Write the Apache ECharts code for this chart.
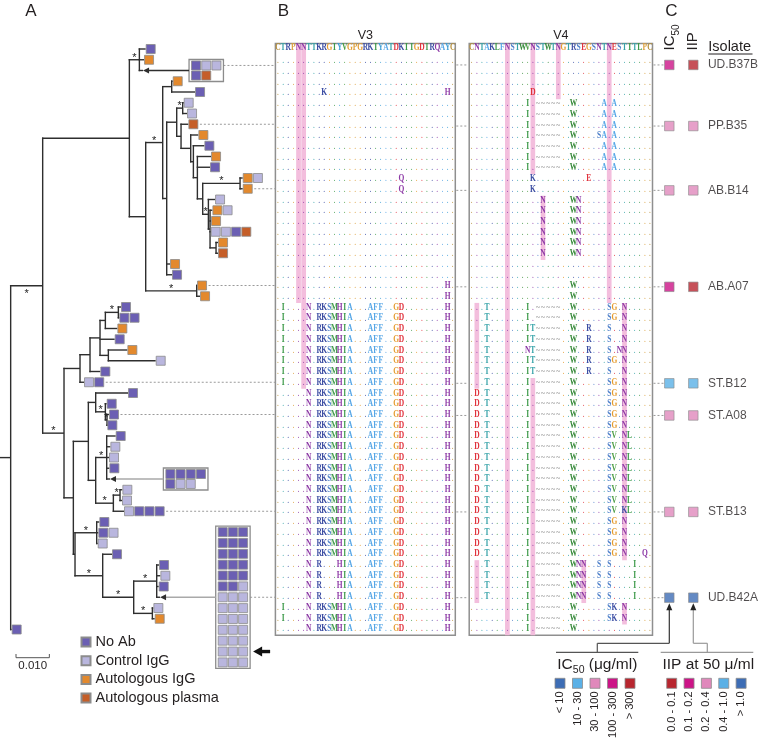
<!DOCTYPE html>
<html><head><meta charset="utf-8"><title>Env tree and alignment</title>
<script src="https://cdn.jsdelivr.net/npm/echarts@6.0.0/dist/echarts.min.js"></script>
<style>html,body{margin:0;padding:0;background:#fff;}#chart{width:758px;height:743px;}</style>
</head><body><div id="chart"></div>
<script>
// ================= DATA =================
const groupNames = ['No Ab', 'Control IgG', 'Autologous IgG', 'Autologous plasma'];
const groupCodes = ['P', 'L', 'O', 'D'];
const groupColors = ['#6b5fb3', '#b9b6de', '#e3892d', '#c55e28'];

// internal nodes: [name, parent, cumulative distance (subst./site)]
const treeNodes = [
  ['root', null, 0], ['A', 'root', 0.0096], ['B', 'A', 0.0356], ['C', 'A', 0.0160],
  ['B1', 'B', 0.0386], ['B2', 'B', 0.0405], ['B21', 'B2', 0.0456], ['B22', 'B2', 0.0558],
  ['B211', 'B21', 0.0483], ['B212', 'B21', 0.0468], ['B2121', 'B212', 0.0498],
  ['C1u', 'B2121', 0.0516], ['Nb', 'B2121', 0.0511], ['Nc', 'Nb', 0.0540], ['Nd', 'Nc', 0.0548],
  ['Ne', 'Nd', 0.0560], ['Nf', 'Ne', 0.0576], ['Ng', 'Nf', 0.0688], ['Nh', 'Nf', 0.0593],
  ['Nh2', 'Nh', 0.0598], ['Nh3', 'Nh2', 0.0616],
  ['C1', 'C', 0.0208], ['C11', 'C1', 0.0238], ['C111', 'C11', 0.0268], ['C1111', 'C111', 0.0284],
  ['C11111', 'C1111', 0.0323], ['C1112', 'C111', 0.0293],
  ['C2', 'C', 0.0188], ['C21', 'C2', 0.0233], ['C211', 'C21', 0.0255], ['C2111', 'C211', 0.0284],
  ['C21111', 'C2111', 0.0289], ['C212', 'C21', 0.0255], ['C2121', 'C212', 0.0288],
  ['C2122', 'C212', 0.0308], ['C2122a', 'C2122', 0.0328],
  ['C2b', 'C2', 0.0193], ['C22', 'C2b', 0.0258], ['C23', 'C2b', 0.0276], ['C231', 'C23', 0.0369],
  ['C2311', 'C231', 0.0438], ['C2312', 'C231', 0.0425]
];
// leaves in display order: [parent, tip distance, sample squares]
const treeLeaves = [
  ['B1', 0.0405, 'P'], ['B1', 0.0400, 'O'], ['B1', 0.0397, 'box'],
  ['B211', 0.0486, 'O'], ['B211', 0.0553, 'P'],
  ['C1u', 0.0519, 'L'], ['C1u', 0.0529, 'L'], ['Nb', 0.0533, 'D'], ['Nc', 0.0563, 'O'],
  ['Nd', 0.0581, 'P'], ['Ne', 0.0601, 'O'], ['Ne', 0.0598, 'P'],
  ['Ng', 0.0696, 'OL'], ['Ng', 0.0696, 'O'], ['Nh', 0.0613, 'L'],
  ['Nh2', 0.0605, 'OL'], ['Nh2', 0.0601, 'O'], ['Nh2', 0.0600, 'LLPD'],
  ['Nh3', 0.0622, 'O'], ['Nh3', 0.0622, 'D'],
  ['B212', 0.0478, 'O'], ['B212', 0.0484, 'P'], ['B22', 0.0559, 'O'], ['B22', 0.0568, 'O'],
  ['C11111', 0.0331, 'P'], ['C11111', 0.0326, 'PP'], ['C1111', 0.0320, 'O'], ['C111', 0.0312, 'P'],
  ['C1112', 0.0350, 'O'], ['C1112', 0.0435, 'L'], ['C11', 0.0269, 'P'], ['C1', 0.0220, 'LP'],
  ['C211', 0.0352, 'P'], ['C2111', 0.0288, 'P'], ['C21111', 0.0295, 'P'], ['C21111', 0.0290, 'P'],
  ['C2121', 0.0315, 'P'], ['C2121', 0.0299, 'L'], ['C2121', 0.0295, 'L'], ['C2121', 0.0296, 'P'],
  ['C2121', 0.0298, 'box'], ['C2122a', 0.0335, 'L'], ['C2122a', 0.0334, 'L'], ['C2122', 0.0340, 'LPPP'],
  ['C22', 0.0266, 'P'], ['C22', 0.0263, 'PL'], ['C22', 0.0261, 'L'], ['C23', 0.0304, 'P'],
  ['C2311', 0.0445, 'P'], ['C2311', 0.0449, 'L'], ['C2311', 0.0444, 'P'], ['C2311', 0.0448, 'box'],
  ['C2312', 0.0428, 'L'], ['C2312', 0.0432, 'O'],
  ['root', 0.0003, 'P']
];
const supportedNodes = ['B1', 'B21', 'B22', 'A', 'C', 'C1u', 'Ng', 'Nh', 'C11111', 'C2111', 'C21111',
  'C2121', 'C2122a', 'C2122', 'C22', 'C23', 'C231', 'C2311', 'C2312'];
const supportedBelow = ['A'];
// collapsed identical-sequence groups
const collapsedLeaf = [2, 40, 51];
const collapsedLeft = [0.0535, 0.0458, 0.0615];
const collapsedRows = [
  ['PLL', 'PD'],
  ['PPPP', 'PLL'],
  ['PPP', 'PPP', 'PPP', 'PPP', 'PPP', 'PPL', 'LLL', 'LLL', 'LLL', 'LLL', 'LLL', 'LLL', 'LLL']
];
const collapsedDark = [true, false, false];
const collapsedPointer = [-1, -1, 11];

// alignments: rows given as substitutions against the reference (dots = identical)
const v3Header = 'CTRPNNTTKRGIYVGPGRKIYATDKIIGDIRQAYC';
const v3Blocks = [
  [3, []],
  [1, [[9, 'K'], [33, 'H']]],
  [7, []],
  [2, [[24, 'Q']]],
  [8, []],
  [2, [[33, 'H']]],
  [8, [[1, 'I'], [6, 'N'], [8, 'RKSMHIA'], [18, 'AFF'], [23, 'GD'], [33, 'H']]],
  [16, [[6, 'N'], [8, 'RKSMHIA'], [18, 'AFF'], [23, 'GD'], [33, 'H']]],
  [4, [[6, 'N'], [8, 'R'], [12, 'HIA'], [18, 'AFF'], [23, 'GD'], [33, 'H']]],
  [2, [[1, 'I'], [6, 'N'], [8, 'RKSMHIA'], [18, 'AFF'], [23, 'GD'], [33, 'H']]],
  [1, [[6, 'N'], [8, 'RKSMHIA'], [18, 'AFF'], [23, 'GD'], [33, 'H']]]
];
const v3Glyco = [[4, -2, 22], [5, -2, 30]];

const v4Header = 'CNTAKLFNSTWVNSTWTNGTRSEGSNTNESTITLPC';
const v4Blocks = [
  [3, []],
  [1, [[12, 'D']]],
  [3, [[11, 'I'], [13, '~~~~~'], [20, 'W'], [26, 'A'], [28, 'A']]],
  [1, [[11, 'I'], [13, '~~~~~'], [20, 'W'], [25, 'SA'], [28, 'A']]],
  [3, [[11, 'I'], [13, '~~~~~'], [20, 'W'], [26, 'A'], [28, 'A']]],
  [1, [[12, 'K'], [23, 'E']]],
  [1, [[12, 'K']]],
  [6, [[14, 'N'], [20, 'WN']]],
  [2, []],
  [2, [[20, 'W']]],
  [2, [[3, 'T'], [11, 'I'], [13, '~~~~~'], [20, 'W'], [27, 'SG'], [30, 'N']]],
  [2, [[3, 'T'], [11, 'IT'], [13, '~~~~~'], [20, 'W'], [23, 'R'], [27, 'S'], [30, 'N']]],
  [1, [[3, 'T'], [11, 'NT'], [13, '~~~~~'], [20, 'W'], [23, 'R'], [27, 'S'], [29, 'NN']]],
  [1, [[3, 'T'], [11, 'IT'], [13, '~~~~~'], [20, 'W'], [23, 'R'], [27, 'SG'], [30, 'N']]],
  [1, [[3, 'T'], [11, 'IT'], [13, '~~~~~'], [20, 'W'], [23, 'R'], [27, 'S'], [30, 'N']]],
  [1, [[3, 'T'], [11, 'I'], [13, '~~~~~'], [20, 'W'], [27, 'SG'], [30, 'N']]],
  [4, [[1, 'D'], [3, 'T'], [11, 'I'], [13, '~~~~~'], [20, 'W'], [27, 'SG'], [30, 'N']]],
  [7, [[1, 'D'], [3, 'T'], [11, 'I'], [13, '~~~~~'], [20, 'W'], [27, 'SV'], [30, 'NL']]],
  [1, [[1, 'D'], [3, 'T'], [11, 'I'], [13, '~~~~~'], [20, 'W'], [27, 'SV'], [30, 'KL']]],
  [3, [[1, 'D'], [3, 'T'], [11, 'I'], [13, '~~~~~'], [20, 'W'], [27, 'SG'], [30, 'N']]],
  [1, [[1, 'D'], [3, 'T'], [11, 'I'], [13, '~~~~~'], [20, 'W'], [27, 'SG'], [30, 'N'], [34, 'Q']]],
  [4, [[3, 'T'], [11, 'I'], [13, '~~~~~'], [20, 'WNN'], [25, 'S'], [27, 'S'], [32, 'I']]],
  [2, [[11, 'I'], [13, '~~~~~'], [20, 'W'], [27, 'SK'], [30, 'N']]],
  [1, [[11, 'I'], [13, '~~~~~'], [20, 'W']]]
];
const v4Glyco = [[1, 23, 30], [1, 47, 50], [7, -2, 53], [12, -2, 10], [12, 30, 53],
  [14, 13, 18], [17, -2, 3], [22, 47, 50], [27, -2, 22], [30, 23, 46], [30, 51, 52]];

const aaColors = { C: '#b8913c', T: '#36a3a8', R: '#3d4ea3', P: '#dba03e', N: '#8d3aa6', K: '#3d4ea3',
  G: '#e59c2f', I: '#3e9a4a', Y: '#3f9fd6', V: '#4c9e45', A: '#56a6e6', D: '#e0323c', Q: '#8d3aa6',
  S: '#4d7fc9', E: '#e0323c', W: '#3a8c3d', F: '#56a6e6', M: '#3e9a4a', H: '#8d3aa6', L: '#3e9a4a' };

// isolates (panel C)
const isolateNames = ['UD.B37B', 'PP.B35', 'AB.B14', 'AB.A07', 'ST.B12', 'ST.A08', 'ST.B13', 'UD.B42A'];
const isolateAlnRow = [0.3, 6, 12, 21, 30, 33, 42, 50];
const isolateTreeRow = [1.53, 7, 13, 22, 31, 34, 43, 51];
const isolateLeaf = [2, 7, 13, 22, 31, 34, 43, 51];
const ic50Class = [3, 2, 2, 3, 1, 2, 2, 0];
const iipClass = [0, 2, 2, 0, 3, 2, 2, 4];
const ic50Labels = ['< 10', '10 - 30', '30 - 100', '100 - 300', '> 300'];
const ic50Colors = ['#3d6db5', '#5ab0e6', '#e088bb', '#cc1487', '#b8262f'];
const iipLabels = ['0.0 - 0.1', '0.1 - 0.2', '0.2 - 0.4', '0.4 - 1.0', '> 1.0'];
const iipColors = ['#b8262f', '#cc1487', '#e088bb', '#5ab0e6', '#3d6db5'];

// ================= LAYOUT / STYLE =================
const FONT = '"Liberation Sans", Arial, sans-serif';
const ALN_FONT = '9.6px "Liberation Serif", serif';
const layout = {
  tree: { left: 0, top: 49, width: 275.4, height: 580.5 },
  v3: { left: 275.4, top: 43.5, width: 179.9, height: 591.7 },
  v4: { left: 469.2, top: 43.5, width: 183.3, height: 591.7 },
  c: { left: 657.3, top: 43.5, width: 48, height: 591.7 }
};
const TREE_XMIN = -0.0032, TREE_XMAX = 0.0794;
const ALN_YMIN = -1.7, ALN_YMAX = 53.5, HEADER_ROW = -1.25;
const SQ_STEP = 10.2;

// ================= BUILD =================
function expand(blocks, len) {
  const out = [];
  blocks.forEach(([n, subs]) => {
    const arr = new Array(len).fill('.');
    subs.forEach(([c, s]) => { for (let k = 0; k < s.length; k++) arr[c + k] = s[k]; });
    for (let i = 0; i < n; i++) out.push(arr.join(''));
  });
  return out;
}
const v3Rows = expand(v3Blocks, v3Header.length);
const v4Rows = expand(v4Blocks, v4Header.length);

const nodes = {};
treeNodes.forEach(([name, parent, depth]) => { nodes[name] = { name, parent, depth, children: [] }; });
treeLeaves.forEach(([parent, depth, sq], i) => { nodes['leaf' + i] = { name: 'leaf' + i, parent, depth, children: [], leaf: true, y: i, sq }; });
Object.keys(nodes).forEach(k => { const n = nodes[k]; if (n.parent) nodes[n.parent].children.push(n); });
(function lay(n) {
  if (n.leaf) return n.y;
  const ys = n.children.map(lay);
  n.minY = Math.min(...ys); n.maxY = Math.max(...ys); n.y = (n.minY + n.maxY) / 2;
  return n.y;
})(nodes.root);

const edgeData = Object.keys(nodes).map(k => {
  const n = nodes[k];
  const pd = n.parent ? nodes[n.parent].depth : TREE_XMIN;
  return [pd, n.depth, n.y, n.leaf ? -1 : n.minY, n.leaf ? -1 : n.maxY];
});
const starData = supportedNodes.map(name => {
  const n = nodes[name];
  return [(nodes[n.parent].depth + n.depth) / 2, n.y, supportedBelow.includes(name) ? 1 : 0];
});

function boxRowOffset(b, j) {
  const rows = collapsedRows[b];
  const step = rows.length > 2 ? 1.01 : 0.93;
  return (j - (rows.length - 1) / 2) * step;
}
function boxCols(b) { return Math.max(...collapsedRows[b].map(r => r.length)); }

const squareSeries = groupCodes.map((code, g) => {
  const data = [];
  treeLeaves.forEach(([p, d, sq], i) => {
    if (sq === 'box') return;
    sq.split('').forEach((c, k) => { if (c === code) data.push({ value: [d, i], symbolOffset: [5 + SQ_STEP * k, 0] }); });
  });
  collapsedLeaf.forEach((leaf, b) => {
    collapsedRows[b].forEach((r, j) => {
      r.split('').forEach((c, k) => {
        if (c === code) data.push({ value: [collapsedLeft[b], leaf + boxRowOffset(b, j)], symbolOffset: [7 + SQ_STEP * k, 0] });
      });
    });
  });
  return {
    type: 'scatter', name: groupNames[g], xAxisIndex: 0, yAxisIndex: 0, symbol: 'rect', symbolSize: 9,
    clip: false, z: 6, silent: true, animation: false,
    itemStyle: { color: groupColors[g], borderColor: '#8c8c8c', borderWidth: 0.8, opacity: 1 },
    data
  };
});

function alnItems(header, rows) {
  const data = [], chars = [], cols = [];
  header.split('').forEach((ch, c) => { data.push([c, HEADER_ROW]); chars.push(ch); cols.push(aaColors[ch]); });
  rows.forEach((row, r) => {
    row.split('').forEach((ch, c) => {
      data.push([c, r]); chars.push(ch);
      cols.push(ch === '.' ? aaColors[header[c]] : (ch === '~' ? '#9c9c9c' : aaColors[ch]));
    });
  });
  return { data, chars, cols };
}
const v3Items = alnItems(v3Header, v3Rows);
const v4Items = alnItems(v4Header, v4Rows);

function textSeries(gridIdx, items) {
  return {
    type: 'custom', xAxisIndex: gridIdx, yAxisIndex: gridIdx, z: 4, silent: true, clip: false, progressive: 0,
    encode: { x: 0, y: 1 },
    renderItem: (params, api) => {
      const i = params.dataIndex;
      const p = api.coord([api.value(0), api.value(1)]);
      const isDot = items.chars[i] === '.';
      return { type: 'text', x: p[0], y: p[1] - 1, scaleX: 0.78,
        style: { text: items.chars[i], fill: items.cols[i], font: (isDot ? '' : '600 ') + ALN_FONT, align: 'center', verticalAlign: 'middle', textAlign: 'center', textVerticalAlign: 'middle' } };
    },
    data: items.data
  };
}
function glycoSeries(gridIdx, bands) {
  return {
    type: 'custom', xAxisIndex: gridIdx, yAxisIndex: gridIdx, z: 1, silent: true, clip: false,
    encode: { x: 0, y: [1, 2] },
    renderItem: (params, api) => {
      const c = api.value(0);
      const r0 = Math.max(api.value(1) - 0.5, ALN_YMIN + 0.1), r1 = Math.min(api.value(2) + 0.5, ALN_YMAX);
      const a = api.coord([c - 0.5, r0]), b = api.coord([c + 0.5, r1]);
      return { type: 'rect', shape: { x: a[0] + 0.2, y: a[1], width: b[0] - a[0] - 0.4, height: b[1] - a[1] }, style: { fill: '#f3bedd' } };
    },
    data: bands
  };
}

const leafEndPx = (api, leaf) => {
  const b = collapsedLeaf.indexOf(leaf);
  if (b >= 0) return api.coord([collapsedLeft[b], leaf])[0] + 14 + SQ_STEP * (boxCols(b) - 1);
  const n = treeLeaves[leaf][2].length;
  return api.coord([treeLeaves[leaf][1], leaf])[0] + 0.5 + SQ_STEP * (n - 1) + 9 + 2;
};

const series = [
  { // tree branches
    type: 'custom', xAxisIndex: 0, yAxisIndex: 0, z: 2, silent: true, clip: false, encode: { x: [0, 1], y: 2 },
    renderItem: (params, api) => {
      const pd = api.value(0), d = api.value(1), y = api.value(2), a = api.value(3), b = api.value(4);
      const p0 = api.coord([pd, y]), p1 = api.coord([d, y]);
      const st = { stroke: '#2e2e2e', lineWidth: 1.4 };
      const ch = [{ type: 'line', shape: { x1: p0[0] - 0.7, y1: p0[1], x2: p1[0], y2: p1[1] }, style: st }];
      if (a >= 0) {
        const q0 = api.coord([d, a]), q1 = api.coord([d, b]);
        ch.push({ type: 'line', shape: { x1: q0[0], y1: q0[1] - 0.7, x2: q1[0], y2: q1[1] + 0.7 }, style: st });
      }
      return { type: 'group', children: ch };
    },
    data: edgeData
  },
  { // collapsed groups: frames and arrows
    type: 'custom', xAxisIndex: 0, yAxisIndex: 0, z: 3, silent: true, clip: false, encode: { x: 0, y: 1 },
    renderItem: (params, api) => {
      const b = params.dataIndex, leaf = collapsedLeaf[b], rows = collapsedRows[b];
      const left = api.coord([collapsedLeft[b], leaf]);
      const tip = api.coord([treeLeaves[leaf][1], leaf]);
      const yTop = api.coord([0, leaf + boxRowOffset(b, 0)])[1] - 6;
      const yBot = api.coord([0, leaf + boxRowOffset(b, rows.length - 1)])[1] + 6;
      const right = left[0] + 14 + SQ_STEP * (boxCols(b) - 1);
      const col = collapsedDark[b] ? '#2e2e2e' : '#a9a9a9';
      const ch = [
        { type: 'rect', shape: { x: left[0], y: yTop, width: right - left[0], height: yBot - yTop }, style: { fill: '#fff', stroke: '#8c8c8c', lineWidth: 1.3 } },
        { type: 'line', shape: { x1: left[0], y1: left[1], x2: tip[0] + 3, y2: tip[1] }, style: { stroke: col, lineWidth: 1.4 } },
        { type: 'polygon', shape: { points: [[tip[0], tip[1]], [tip[0] + 6, tip[1] - 3], [tip[0] + 6, tip[1] + 3]] }, style: { fill: '#2e2e2e' } }
      ];
      if (collapsedPointer[b] >= 0) {
        const py = api.coord([0, leaf + boxRowOffset(b, collapsedPointer[b])])[1];
        const x0 = right + 3;
        ch.push({ type: 'polygon', shape: { points: [[x0, py], [x0 + 9, py - 5], [x0 + 9, py + 5]] }, style: { fill: '#111' } });
        ch.push({ type: 'rect', shape: { x: x0 + 8, y: py - 1.7, width: 9, height: 3.4 }, style: { fill: '#111' } });
      }
      return { type: 'group', children: ch };
    },
    data: collapsedLeaf.map((leaf, b) => [collapsedLeft[b], leaf])
  },
  { // bootstrap support stars
    type: 'custom', xAxisIndex: 0, yAxisIndex: 0, z: 4, silent: true, clip: false, encode: { x: 0, y: 1 },
    renderItem: (params, api) => {
      const p = api.coord([api.value(0), api.value(1)]);
      const below = api.value(2) === 1;
      return { type: 'text', x: p[0], y: p[1] + (below ? 8 : -2),
        style: { text: '*', font: '11px ' + FONT, fill: '#222', align: 'center', verticalAlign: 'middle', textAlign: 'center', textVerticalAlign: 'middle' } };
    },
    data: starData
  },
  { // dotted connectors tree -> alignment
    type: 'custom', xAxisIndex: 0, yAxisIndex: 0, z: 1, silent: true, clip: false, encode: { x: 0, y: 1 },
    renderItem: (params, api) => {
      const i = params.dataIndex;
      const y = api.coord([0, isolateTreeRow[i]])[1];
      const x0 = leafEndPx(api, isolateLeaf[i]);
      const x1 = api.coord([TREE_XMAX, 0])[0];
      return { type: 'line', shape: { x1: x0, y1: y, x2: x1, y2: y }, style: { stroke: '#9a9a9a', lineWidth: 1, lineDash: [2, 2] } };
    },
    data: isolateTreeRow.map((r, i) => [0, r])
  },
  ...squareSeries,
  glycoSeries(1, v3Glyco),
  textSeries(1, v3Items),
  glycoSeries(2, v4Glyco),
  textSeries(2, v4Items),
  { // panel C connectors
    type: 'custom', xAxisIndex: 3, yAxisIndex: 3, z: 1, silent: true, clip: false, encode: { x: 0, y: 1 },
    renderItem: (params, api) => {
      const p = api.coord([0.5, api.value(1)]);
      const st = { stroke: '#9a9a9a', lineWidth: 1, lineDash: [2, 2] };
      const v3r = layout.v3.left + layout.v3.width, v4l = layout.v4.left, v4r = layout.v4.left + layout.v4.width;
      return { type: 'group', children: [
        { type: 'line', shape: { x1: v3r + 1, y1: p[1], x2: v4l - 1, y2: p[1] }, style: st },
        { type: 'line', shape: { x1: v4r + 1, y1: p[1], x2: p[0] - 5, y2: p[1] }, style: st }
      ] };
    },
    data: isolateAlnRow.map(r => [0.5, r])
  },
  {
    type: 'scatter', name: 'IC50', xAxisIndex: 3, yAxisIndex: 3, symbol: 'rect', symbolSize: 9.5, clip: false, z: 5, silent: true,
    itemStyle: { borderColor: '#8c8c8c', borderWidth: 0.8 },
    data: isolateAlnRow.map((r, i) => ({ value: [0.5, r], itemStyle: { color: ic50Colors[ic50Class[i]] } }))
  },
  {
    type: 'scatter', name: 'IIP', xAxisIndex: 3, yAxisIndex: 3, symbol: 'rect', symbolSize: 9.5, clip: false, z: 5, silent: true,
    itemStyle: { borderColor: '#8c8c8c', borderWidth: 0.8 },
    label: { show: true, position: 'right', distance: 9.5, formatter: '{b}', fontSize: 12, color: '#231f20', fontFamily: FONT },
    data: isolateAlnRow.map((r, i) => ({ name: isolateNames[i], value: [1.5, r], itemStyle: { color: iipColors[iipClass[i]] } }))
  }
];

const hiddenAxis = (min, max, gridIndex, inverse) => ({
  type: 'value', min, max, gridIndex, inverse: !!inverse, show: false,
  axisLine: { show: false }, axisTick: { show: false }, axisLabel: { show: false }, splitLine: { show: false }
});
const gridOf = (g, border) => Object.assign({ containLabel: false, outerBoundsMode: 'none', show: !!border,
  borderColor: '#8f8f8f', borderWidth: 1.5, backgroundColor: 'transparent' }, g);

const chart = echarts.init(document.getElementById('chart'), null, { renderer: 'canvas', width: 758, height: 743 });
chart.setOption({
  animation: false,
  backgroundColor: '#ffffff',
  textStyle: { fontFamily: FONT },
  grid: [gridOf(layout.tree, false), gridOf(layout.v3, true), gridOf(layout.v4, true), gridOf(layout.c, false)],
  xAxis: [hiddenAxis(TREE_XMIN, TREE_XMAX, 0), hiddenAxis(-0.5, v3Header.length - 0.5, 1), hiddenAxis(-0.5, v4Header.length - 0.5, 2), hiddenAxis(0, 2, 3)],
  yAxis: [hiddenAxis(0, 54, 0, true), hiddenAxis(ALN_YMIN, ALN_YMAX, 1, true), hiddenAxis(ALN_YMIN, ALN_YMAX, 2, true), hiddenAxis(ALN_YMIN, ALN_YMAX, 3, true)],
  legend: {
    data: groupNames, orient: 'vertical', left: 80.5, top: 634.5, itemWidth: 9, itemHeight: 9, itemGap: 3.7,
    icon: 'rect', selectedMode: false, padding: 0,
    textStyle: { fontSize: 14.5, lineHeight: 14.5, color: '#231f20', fontFamily: FONT }
  },
  series
});

// ---------- annotations ----------
const T = (x, y, text, size, o) => {
  o = o || {};
  return { type: 'text', x, y, rotation: o.rot || 0, silent: true,
    style: Object.assign({ text, font: size + 'px ' + FONT, fill: o.fill || '#231f20',
      align: o.align || 'center', verticalAlign: o.va || 'middle', textAlign: o.align || 'center', textVerticalAlign: o.va || 'middle' }, o.style || {}) };
};
const Ln = (x1, y1, x2, y2, c, w) => ({ type: 'line', silent: true, shape: { x1, y1, x2, y2 }, style: { stroke: c || '#444', lineWidth: w || 1.2 } });
const graphics = [];
graphics.push(T(31, 11, 'A', 17), T(283.5, 11, 'B', 17), T(671.5, 11, 'C', 17));
graphics.push(T(layout.v3.left + layout.v3.width / 2, 35.5, 'V3', 12.5), T(layout.v4.left + layout.v4.width / 2, 35.5, 'V4', 12.5));
const pC0 = chart.convertToPixel({ gridIndex: 3 }, [0.5, 0]);
const pC1 = chart.convertToPixel({ gridIndex: 3 }, [1.5, 0]);
graphics.push({ type: 'text', x: pC0[0] + 1, y: 50.5, rotation: Math.PI / 2, silent: true,
  style: { text: '{a|IC}{s|50}', align: 'left', verticalAlign: 'middle', textAlign: 'left', textVerticalAlign: 'middle',
    rich: { a: { font: '15px ' + FONT, fill: '#231f20', color: '#231f20', lineHeight: 22 }, s: { font: '10px ' + FONT, fill: '#231f20', color: '#231f20', lineHeight: 22, verticalAlign: 'bottom' } } } });
graphics.push(T(pC1[0], 50.5, 'IIP', 15, { rot: Math.PI / 2, align: 'left' }));
graphics.push(T(708.3, 46.5, 'Isolate', 14.5, { align: 'left' }), Ln(708.3, 54, 752.5, 54, '#231f20', 1));

// scale bar
const sb0 = chart.convertToPixel({ gridIndex: 0 }, [0.0016, 0])[0];
const sb1 = chart.convertToPixel({ gridIndex: 0 }, [0.0116, 0])[0];
graphics.push(Ln(sb0, 657.7, sb1, 657.7, '#555', 1), Ln(sb0, 654, sb0, 657.7, '#555', 1), Ln(sb1, 654, sb1, 657.7, '#555', 1));
graphics.push(T((sb0 + sb1) / 2, 665.5, '0.010', 11.5));

// IC50 / IIP keys
const last = isolateAlnRow.length - 1;
const tipY = chart.convertToPixel({ gridIndex: 3 }, [0.5, isolateAlnRow[last]])[1] + 5.5;
const keyY = 683.3;
ic50Colors.forEach((c, i) => {
  const x = 560 + 17.5 * i;
  graphics.push({ type: 'rect', silent: true, shape: { x: x - 5, y: keyY - 5, width: 10, height: 10 }, style: { fill: c, stroke: '#8c8c8c', lineWidth: 0.8 } });
  graphics.push(T(x, 691.5, ic50Labels[i], 11, { rot: Math.PI / 2, align: 'right' }));
});
iipColors.forEach((c, i) => {
  const x = 671.7 + 17.35 * i;
  graphics.push({ type: 'rect', silent: true, shape: { x: x - 5, y: keyY - 5, width: 10, height: 10 }, style: { fill: c, stroke: '#8c8c8c', lineWidth: 0.8 } });
  graphics.push(T(x, 691.5, iipLabels[i], 11, { rot: Math.PI / 2, align: 'right' }));
});
graphics.push({ type: 'text', x: 597.3, y: 665, silent: true,
  style: { text: '{a|IC}{s|50}{a| (μg/ml)}', align: 'center', verticalAlign: 'middle', textAlign: 'center', textVerticalAlign: 'middle',
    rich: { a: { font: '15.5px ' + FONT, fill: '#231f20', color: '#231f20', lineHeight: 22 }, s: { font: '10.5px ' + FONT, fill: '#231f20', color: '#231f20', lineHeight: 22, verticalAlign: 'bottom' } } } });
graphics.push(T(708.3, 665, 'IIP at 50 μ/ml', 15.5));
// brackets and arrows
graphics.push(Ln(556, 652.3, 638.3, 652.3, '#555', 1.2), Ln(597.3, 643.3, 597.3, 652.3, '#555', 1.2),
  Ln(597.3, 643.3, pC0[0], 643.3, '#555', 1.2), Ln(pC0[0], 643.3, pC0[0], tipY + 4, '#333', 1.2));
graphics.push({ type: 'polygon', silent: true, shape: { points: [[pC0[0], tipY], [pC0[0] - 3, tipY + 7], [pC0[0] + 3, tipY + 7]] }, style: { fill: '#222' } });
graphics.push(Ln(660.7, 652.3, 753.3, 652.3, '#999', 1.2), Ln(707.3, 643.3, 707.3, 652.3, '#999', 1.2),
  Ln(pC1[0], 643.3, 707.3, 643.3, '#999', 1.2), Ln(pC1[0], 643.3, pC1[0], tipY + 4, '#999', 1.2));
graphics.push({ type: 'polygon', silent: true, shape: { points: [[pC1[0], tipY], [pC1[0] - 3, tipY + 7], [pC1[0] + 3, tipY + 7]] }, style: { fill: '#222' } });

chart.setOption({ graphic: graphics });
</script></body></html>
